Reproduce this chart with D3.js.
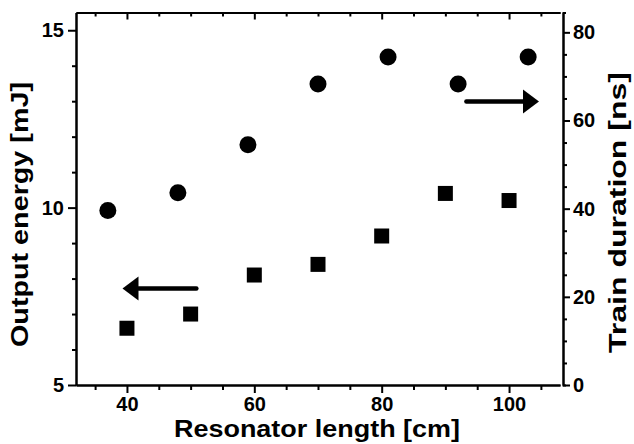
<!DOCTYPE html>
<html>
<head>
<meta charset="utf-8">
<script src="https://cdn.jsdelivr.net/npm/d3@7"></script>
<style>
  body { margin: 0; background: #fff; }
  svg text { font-family: "Liberation Sans", Arial, sans-serif; font-weight: bold; fill: #000; }
  .axis path, .axis line { stroke: #000; stroke-width: 2px; }
</style>
</head>
<body>
<svg id="chart" width="634" height="444"></svg>
<script>
// Output energy (squares, left axis)
const energyLength = [40, 50, 60, 70, 80, 90, 100];
const energyValues = [6.6, 7.0, 8.1, 8.4, 9.2, 10.4, 10.2];

// Train duration (circles, right axis)
const durationLength = [37, 48, 59, 70, 81, 92, 103];
const durationValues = [39.6, 43.6, 54.5, 68.3, 74.4, 68.3, 74.4];

// tick labels
const xTicks = [40, 60, 80, 100];
const yLeftTicks = [5, 10, 15];
const yRightTicks = [0, 20, 40, 60, 80];

// arrows: [from x, to x, y] in data units
const arrowLeft = [50.9, 39.3, 7.72];   // points to left axis
const arrowRight = [93.3, 104.7, 64.3]; // points to right axis

const svg = d3.select("#chart");
const mLeft = 76, mRight = 560, mTop = 12.5, mBottom = 385, rightAxisX = 563;

const x = d3.scaleLinear().domain([32, 108]).range([mLeft, mRight]);
const yL = d3.scaleLinear().domain([5, 15.5]).range([mBottom, mTop]);
const yR = d3.scaleLinear().domain([0, 84.5]).range([mBottom, mTop]);

const xMinor = d3.range(35, 108, 5).filter(v => !xTicks.includes(v));
const yLMinor = d3.range(6, 15.5, 1).filter(v => !yLeftTicks.includes(v));
const yRMinor = d3.range(5, 84.5, 5).filter(v => !yRightTicks.includes(v));

// bottom axis
svg.append("g").attr("class", "axis").attr("transform", `translate(0,${mBottom})`)
    .call(d3.axisBottom(x).tickValues(xMinor).tickSize(5).tickSizeOuter(0).tickFormat(""));
svg.append("g").attr("class", "axis").attr("transform", `translate(0,${mBottom})`)
    .call(d3.axisBottom(x).tickValues(xTicks).tickSize(8).tickSizeOuter(0).tickPadding(4))
    .call(g => g.selectAll("text").style("font-size", "20px"));

// top frame with inward ticks
svg.append("g").attr("class", "axis").attr("transform", `translate(0,${mTop})`)
    .call(d3.axisTop(x).tickValues(xMinor).tickSize(-4).tickSizeOuter(0).tickFormat(""));
svg.append("g").attr("class", "axis").attr("transform", `translate(0,${mTop})`)
    .call(d3.axisTop(x).tickValues(xTicks).tickSize(-7).tickSizeOuter(0).tickFormat(""));

// left axis
svg.append("g").attr("class", "axis").attr("transform", `translate(${mLeft},0)`)
    .call(d3.axisLeft(yL).tickValues(yLMinor).tickSize(4).tickSizeOuter(0).tickFormat(""));
svg.append("g").attr("class", "axis").attr("transform", `translate(${mLeft},0)`)
    .call(d3.axisLeft(yL).tickValues(yLeftTicks).tickSize(8).tickSizeOuter(0).tickPadding(4))
    .call(g => g.selectAll("text").style("font-size", "20px"));

// right axis (offset a little from the frame)
svg.append("g").attr("class", "axis").attr("transform", `translate(${rightAxisX},0)`)
    .call(d3.axisRight(yR).tickValues(yRMinor).tickSize(4).tickSizeOuter(0).tickFormat(""));
svg.append("g").attr("class", "axis").attr("transform", `translate(${rightAxisX},0)`)
    .call(d3.axisRight(yR).tickValues(yRightTicks).tickSize(7).tickSizeOuter(3).tickPadding(3))
    .call(g => g.selectAll("text").style("font-size", "20px"));

// axis titles
svg.append("text")
    .attr("x", 317).attr("y", 437)
    .attr("text-anchor", "middle").style("font-size", "24px")
    .attr("textLength", 286).attr("lengthAdjust", "spacingAndGlyphs")
    .text("Resonator length [cm]");
svg.append("text")
    .attr("transform", "translate(28,214.5) rotate(-90)")
    .attr("text-anchor", "middle").style("font-size", "24px")
    .attr("textLength", 265).attr("lengthAdjust", "spacingAndGlyphs")
    .text("Output energy [mJ]");
svg.append("text")
    .attr("transform", "translate(626,212.5) rotate(-90)")
    .attr("text-anchor", "middle").style("font-size", "24px")
    .attr("textLength", 281).attr("lengthAdjust", "spacingAndGlyphs")
    .text("Train duration [ns]");

// squares
svg.append("g").selectAll("rect")
    .data(energyLength)
    .enter()
    .append("rect")
    .attr("x", (d, i) => x(d) - 7.5)
    .attr("y", (d, i) => yL(energyValues[i]) - 7.5)
    .attr("width", 15)
    .attr("height", 15)
    .attr("fill", "#000");

// circles
svg.append("g").selectAll("circle")
    .data(durationLength)
    .enter()
    .append("circle")
    .attr("cx", d => x(d))
    .attr("cy", (d, i) => yR(durationValues[i]))
    .attr("r", 8.5)
    .attr("fill", "#000");

// arrows
function drawArrow(a, yScale) {
    const x0 = x(a[0]), x1 = x(a[1]), yy = yScale(a[2]);
    const dir = Math.sign(x1 - x0);
    const headLen = 16, headHalf = 12;
    svg.append("line")
        .attr("x1", x0).attr("x2", x1 - dir * headLen)
        .attr("y1", yy).attr("y2", yy)
        .attr("stroke", "#000").attr("stroke-width", 4.5)
        .attr("stroke-linecap", "round");
    svg.append("path")
        .attr("d", `M${x1},${yy} L${x1 - dir * headLen},${yy - headHalf} L${x1 - dir * headLen},${yy + headHalf} Z`)
        .attr("fill", "#000");
}
drawArrow(arrowLeft, yL);
drawArrow(arrowRight, yR);
</script>
</body>
</html>
